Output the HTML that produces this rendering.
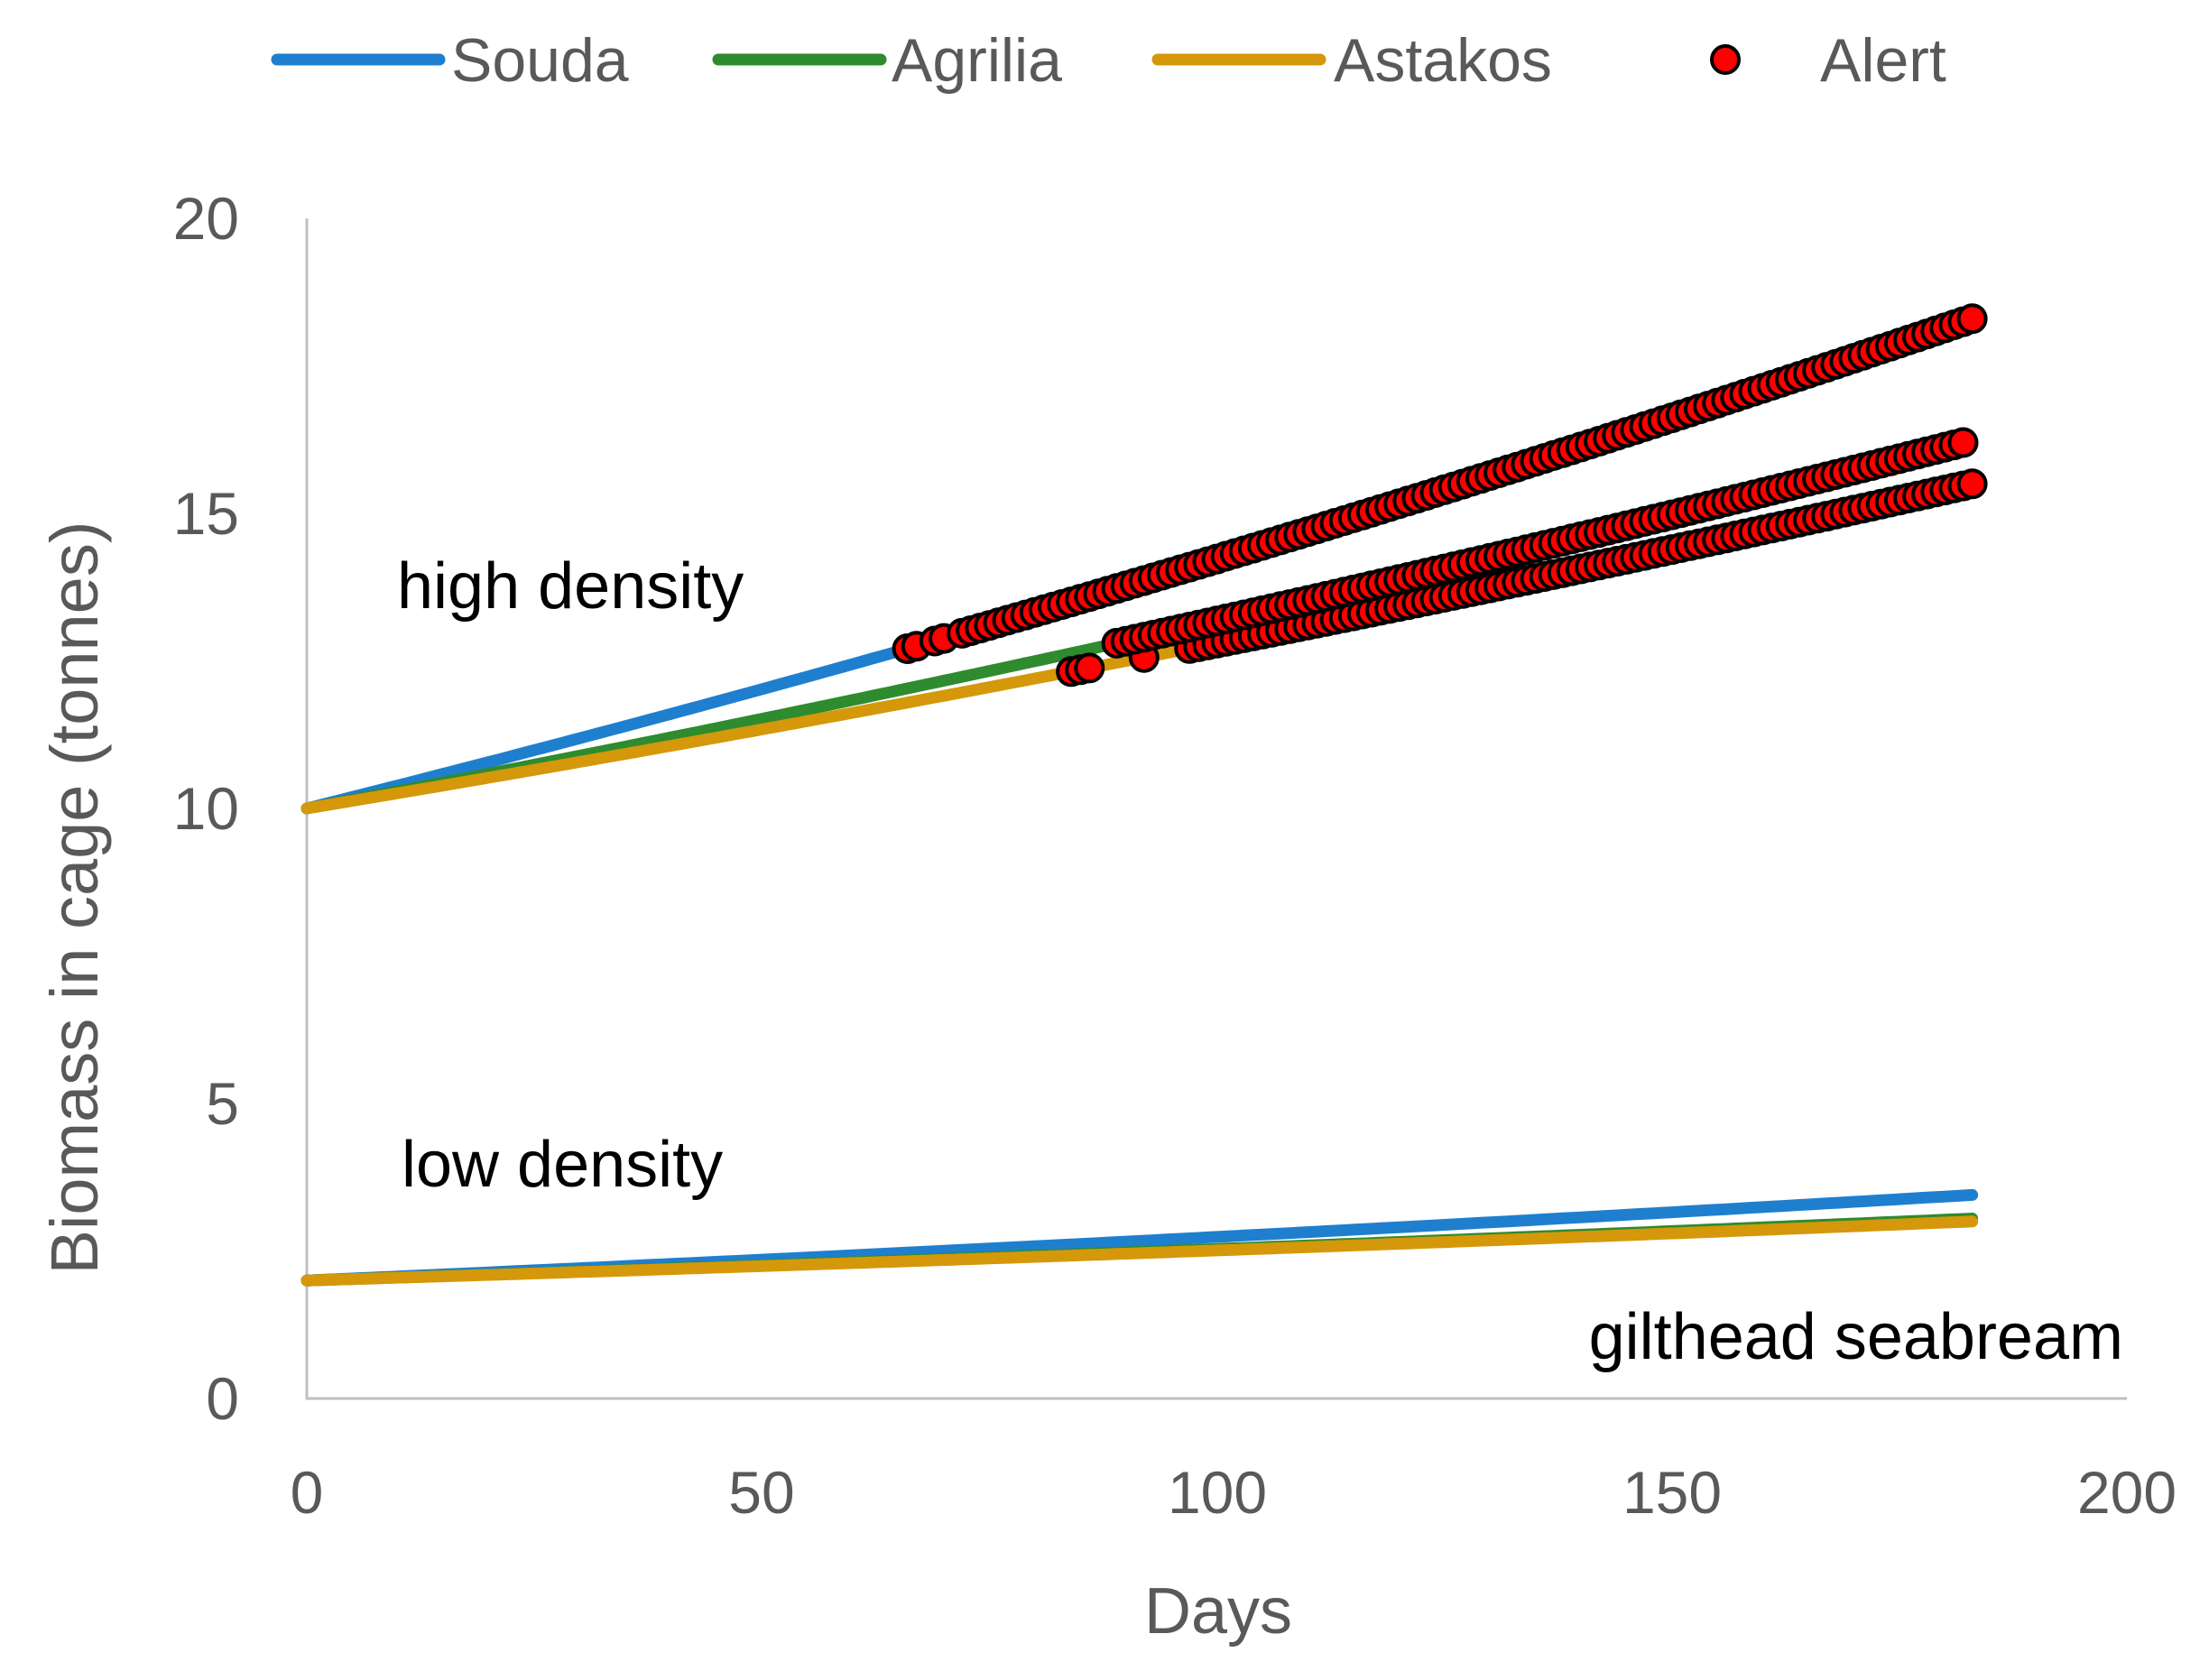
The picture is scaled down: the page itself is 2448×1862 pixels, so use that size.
<!DOCTYPE html>
<html><head><meta charset="utf-8"><style>
html,body{margin:0;padding:0;background:#fff;}
svg{display:block;}
text{font-family:"Liberation Sans","DejaVu Sans",sans-serif;}
</style></head><body>
<svg id="s" width="2448" height="1862" viewBox="0 0 2448 1862" xmlns="http://www.w3.org/2000/svg">
<rect width="2448" height="1862" fill="#fff"/>
<g stroke="#bfbfbf" stroke-width="3">
<line x1="340" y1="242" x2="340" y2="1551"/>
<line x1="339" y1="1550" x2="2357" y2="1550"/>
</g>
<g fill="#595959" font-size="66" text-anchor="end">
<text x="265" y="265">20</text>
<text x="265" y="592">15</text>
<text x="265" y="919">10</text>
<text x="265" y="1246">5</text>
<text x="265" y="1573">0</text>
</g>
<g fill="#595959" font-size="66" text-anchor="middle">
<text x="340" y="1677">0</text>
<text x="844" y="1677">50</text>
<text x="1349" y="1677">100</text>
<text x="1853" y="1677">150</text>
<text x="2357" y="1677">200</text>
<text x="1350" y="1810" font-size="72">Days</text>
<text transform="translate(108,995) rotate(-90)" font-size="74">Biomass in cage (tonnes)</text>
</g>
<g fill="#000" font-size="72">
<text x="440" y="674">high density</text>
<text x="445" y="1315">low density</text>
<text x="2353" y="1506" text-anchor="end">gilthead seabream</text>
</g>
<g id="series"></g>
<g font-size="68" fill="#595959">
<line x1="307" y1="66" x2="487" y2="66" stroke="#1f7fcf" stroke-width="13" stroke-linecap="round"/>
<text x="500" y="90">Souda</text>
<line x1="796" y1="66" x2="976" y2="66" stroke="#2e8b2e" stroke-width="13" stroke-linecap="round"/>
<text x="988" y="90">Agrilia</text>
<line x1="1283" y1="66" x2="1463" y2="66" stroke="#d4980a" stroke-width="13" stroke-linecap="round"/>
<text x="1478" y="90">Astakos</text>
<circle cx="1912" cy="66" r="15" fill="#f00" stroke="#000" stroke-width="4"/>
<text x="2017" y="90">Alert</text>
</g>
</svg>
<script>
(function(){
var X=function(d){return 340+d*10.085;},Y=function(v){return 1550-v*65.4;};
var g=document.getElementById('series'),ns='http://www.w3.org/2000/svg';
function f(v0,v1,N,d){var t=d/N;return v0+(v1-v0)*(0.85*t+0.15*t*t);}
function line(v0,v1,N,col){var p=[];for(var d=0;d<=N;d++)p.push(X(d).toFixed(1)+','+Y(f(v0,v1,N,d)).toFixed(1));
var e=document.createElementNS(ns,'polyline');e.setAttribute('points',p.join(' '));e.setAttribute('fill','none');e.setAttribute('stroke',col);e.setAttribute('stroke-width','13');e.setAttribute('stroke-linecap','round');g.appendChild(e);}
var S=['#1f7fcf','#2e8b2e','#d4980a'];
line(2,3.45,183,S[0]);line(2,3.05,183,S[1]);line(2,3.0,183,S[2]);
line(10,18.3,183,S[0]);line(10,16.2,182,S[1]);line(10,15.5,183,S[2]);
function dots(v0,v1,N,days){days.forEach(function(d){var c=document.createElementNS(ns,'circle');c.setAttribute('cx',X(d).toFixed(1));c.setAttribute('cy',Y(f(v0,v1,N,d)).toFixed(1));c.setAttribute('r','15');c.setAttribute('fill','#f00');c.setAttribute('stroke','#000');c.setAttribute('stroke-width','4');g.appendChild(c);});}
var a=[66,67,69,70];for(var d=72;d<=183;d++)a.push(d);
var b=[];for(var d=89;d<=182;d++)b.push(d);
var c=[84,85,86,92];for(var d=97;d<=183;d++)c.push(d);
dots(10,15.5,183,c);dots(10,16.2,182,b);dots(10,18.3,183,a);
})();
</script>
</body></html>
